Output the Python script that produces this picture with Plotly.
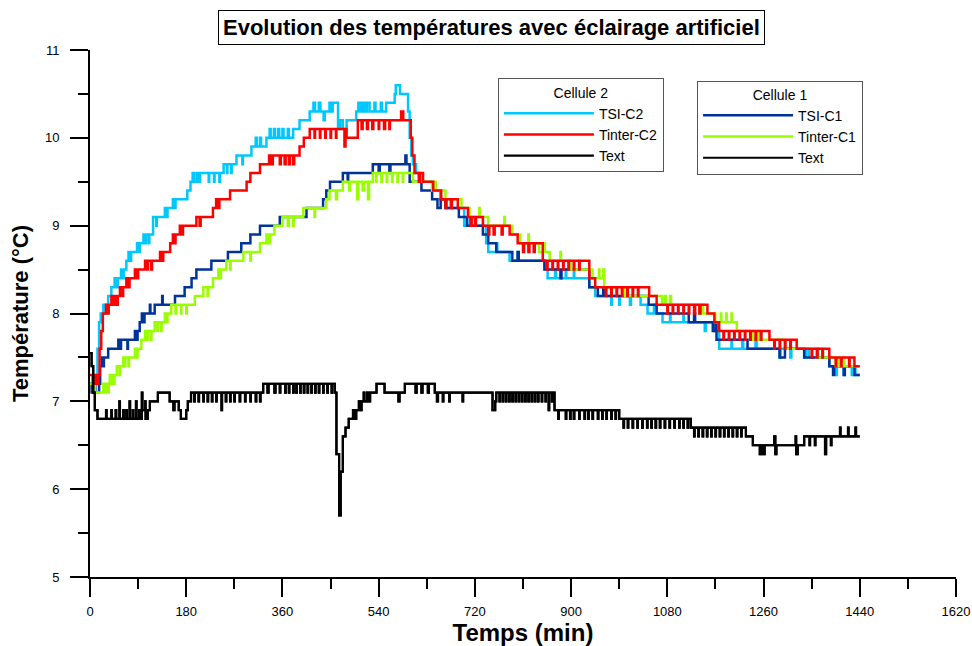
import plotly.graph_objects as go

# ---------------- data (time in min, temperature in °C), step samples ----------------
TSI_C2 = [(0,7.2),(12,7.3),(14,7.6),(17,7.9),(20,8.0),(25,8.1),(29,8.0),(31,8.1),(34,8.2),(40,8.3),(46,8.4),(49,8.3),(52,8.4),(58,8.5),(62,8.4),(63,8.5),(68,8.6),(72,8.7),(75,8.6),(77,8.7),(88,8.8),(92,8.7),(93,8.8),(100,8.9),(104,8.8),(105,8.9),(110,8.8),(111,8.9),(118,9.1),(124,9.0),(125,9.1),(140,9.2),(143,9.1),(145,9.2),(155,9.3),(158,9.2),(160,9.3),(182,9.4),(188,9.5),(192,9.6),(195,9.5),(200,9.6),(204,9.5),(206,9.6),(222,9.5),(223,9.6),(232,9.5),(233,9.6),(242,9.5),(243,9.6),(250,9.7),(256,9.6),(257,9.7),(264,9.6),(265,9.7),(274,9.8),(285,9.7),(286,9.8),(302,9.9),(310,10.0),(312,9.9),(318,10.0),(320,9.9),(330,10.0),(336,10.1),(338,10.0),(344,10.1),(346,10.0),(352,10.1),(354,10.0),(360,10.1),(362,10.0),(370,10.1),(372,10.0),(380,10.1),(392,10.2),(411,10.3),(418,10.4),(421,10.3),(428,10.4),(431,10.3),(437,10.2),(439,10.3),(448,10.4),(452,10.3),(454,10.4),(464,10.1),(468,10.2),(473,10.1),(480,10.2),(498,10.3),(502,10.4),(506,10.3),(510,10.4),(514,10.3),(518,10.4),(523,10.3),(532,10.4),(534,10.3),(544,10.4),(546,10.3),(554,10.4),(570,10.5),(572,10.6),(580,10.5),(595,10.3),(598,10.0),(601,9.8),(604,9.7),(610,9.6),(618,9.5),(640,9.4),(655,9.3),(665,9.2),(700,9.0),(710,9.1),(712,9.0),(741,8.8),(745,8.7),(760,8.8),(762,8.7),(785,8.6),(800,8.7),(802,8.6),(853,8.5),(856,8.4),(870,8.5),(872,8.4),(890,8.5),(891,8.4),(905,8.5),(906,8.4),(934,8.3),(945,8.2),(975,8.1),(976,8.2),(990,8.1),(991,8.2),(1010,8.1),(1012,8.2),(1030,8.1),(1043,8.0),(1055,8.1),(1057,8.0),(1071,7.9),(1085,8.0),(1086,7.9),(1110,8.0),(1111,7.9),(1150,7.8),(1152,7.9),(1168,7.8),(1177,7.6),(1200,7.7),(1201,7.6),(1220,7.7),(1222,7.6),(1245,7.7),(1247,7.6),(1290,7.5),(1292,7.6),(1310,7.5),(1312,7.6),(1336,7.5),(1340,7.6),(1345,7.5),(1360,7.6),(1362,7.5),(1383,7.4),(1395,7.3),(1397,7.4),(1410,7.3),(1412,7.4),(1425,7.3),(1430,7.4),(1432,7.3),(1440,7.3)]

TINTER_C2 = [(0,7.3),(5,7.2),(8,7.3),(12,7.2),(16,7.3),(18,7.6),(21,7.8),(24,8.0),(30,8.1),(33,8.0),(35,8.1),(40,8.2),(42,8.1),(46,8.2),(48,8.1),(52,8.2),(56,8.3),(60,8.2),(62,8.3),(68,8.4),(72,8.3),(74,8.4),(84,8.5),(88,8.4),(90,8.5),(103,8.6),(106,8.5),(108,8.6),(114,8.5),(116,8.6),(131,8.7),(135,8.6),(137,8.7),(150,8.8),(155,8.9),(158,8.8),(160,8.9),(168,9.0),(172,8.9),(174,9.0),(199,9.1),(205,9.0),(207,9.1),(230,9.2),(236,9.3),(240,9.2),(242,9.3),(262,9.4),(293,9.5),(300,9.6),(318,9.7),(335,9.8),(338,9.7),(342,9.8),(355,9.7),(357,9.8),(364,9.7),(366,9.8),(372,9.7),(374,9.8),(380,9.7),(382,9.8),(392,9.9),(400,10.0),(411,10.1),(420,10.0),(421,10.1),(430,10.0),(431,10.1),(440,10.0),(441,10.1),(450,10.0),(451,10.1),(460,10.0),(461,10.1),(476,9.9),(478,10.1),(480,10.0),(501,10.2),(508,10.1),(510,10.2),(518,10.1),(520,10.2),(528,10.1),(530,10.2),(540,10.1),(541,10.2),(550,10.1),(552,10.2),(560,10.1),(561,10.2),(582,10.3),(586,10.2),(600,10.0),(603,9.8),(607,9.6),(615,9.5),(617,9.6),(623,9.5),(642,9.4),(657,9.3),(665,9.2),(667,9.3),(675,9.2),(677,9.3),(688,9.2),(707,9.1),(712,9.0),(714,9.1),(720,9.0),(722,9.1),(735,9.0),(745,8.9),(747,9.0),(755,8.9),(757,9.0),(770,8.9),(772,9.0),(785,8.9),(800,8.8),(810,8.7),(812,8.8),(820,8.7),(822,8.8),(830,8.7),(832,8.8),(847,8.6),(855,8.5),(856,8.6),(865,8.5),(866,8.6),(875,8.5),(876,8.6),(885,8.5),(886,8.6),(895,8.5),(896,8.6),(905,8.5),(906,8.6),(915,8.5),(916,8.6),(934,8.4),(945,8.3),(965,8.2),(966,8.3),(975,8.2),(976,8.3),(985,8.2),(986,8.3),(995,8.2),(996,8.3),(1005,8.2),(1006,8.3),(1015,8.2),(1016,8.3),(1025,8.2),(1026,8.3),(1046,8.2),(1060,8.1),(1080,8.0),(1081,8.1),(1090,8.0),(1091,8.1),(1100,8.0),(1101,8.1),(1110,8.0),(1111,8.1),(1120,8.0),(1121,8.1),(1130,8.0),(1132,8.1),(1140,8.0),(1142,8.1),(1155,8.0),(1168,7.9),(1177,7.8),(1185,7.7),(1186,7.8),(1195,7.7),(1196,7.8),(1205,7.7),(1206,7.8),(1215,7.7),(1216,7.8),(1225,7.7),(1226,7.8),(1235,7.7),(1236,7.8),(1245,7.7),(1246,7.8),(1255,7.7),(1256,7.8),(1271,7.7),(1280,7.6),(1281,7.7),(1290,7.6),(1291,7.7),(1300,7.6),(1301,7.7),(1310,7.6),(1311,7.7),(1322,7.6),(1350,7.5),(1351,7.6),(1360,7.5),(1361,7.6),(1370,7.5),(1371,7.6),(1383,7.5),(1395,7.4),(1396,7.5),(1405,7.4),(1406,7.5),(1420,7.4),(1421,7.5),(1430,7.4),(1440,7.4)]

TSI_C1 = [(0,7.2),(3,7.1),(8,7.2),(10,7.1),(17,7.2),(19,7.4),(22,7.5),(24,7.4),(26,7.5),(34,7.6),(53,7.7),(56,7.6),(58,7.7),(70,7.6),(71,7.7),(84,7.8),(88,7.7),(89,7.8),(93,7.9),(97,8.0),(100,7.9),(102,8.0),(112,8.1),(113,8.0),(121,8.1),(135,8.2),(136,8.1),(159,8.2),(177,8.3),(190,8.4),(199,8.5),(227,8.6),(258,8.7),(283,8.8),(300,8.9),(318,9.0),(355,9.1),(405,9.2),(436,9.3),(442,9.4),(449,9.5),(473,9.6),(482,9.5),(483,9.6),(529,9.7),(540,9.6),(542,9.7),(560,9.6),(562,9.7),(590,9.8),(592,9.7),(598,9.5),(620,9.4),(640,9.3),(650,9.2),(656,9.3),(665,9.2),(690,9.1),(705,9.0),(735,8.9),(745,8.8),(760,8.7),(790,8.6),(800,8.7),(802,8.6),(850,8.5),(880,8.4),(882,8.5),(934,8.3),(950,8.2),(960,8.3),(962,8.2),(1045,8.1),(1060,8.0),(1120,7.9),(1130,8.0),(1132,7.9),(1165,7.8),(1170,7.9),(1172,7.7),(1230,7.6),(1290,7.5),(1300,7.6),(1336,7.5),(1383,7.4),(1390,7.3),(1392,7.4),(1410,7.3),(1412,7.4),(1430,7.3),(1440,7.3)]

TINTER_C1 = [(0,7.2),(9,7.1),(25,7.2),(28,7.1),(30,7.2),(34,7.1),(35,7.2),(37,7.3),(40,7.2),(41,7.3),(45,7.2),(46,7.3),(50,7.4),(55,7.3),(56,7.4),(62,7.5),(65,7.4),(66,7.5),(72,7.4),(73,7.5),(84,7.6),(88,7.5),(89,7.6),(96,7.7),(103,7.8),(107,7.7),(108,7.8),(114,7.7),(115,7.8),(121,7.9),(126,7.8),(127,7.9),(133,7.8),(134,7.9),(140,8.0),(144,7.9),(145,8.0),(152,8.1),(160,8.0),(161,8.1),(170,8.0),(171,8.1),(180,8.0),(181,8.1),(196,8.2),(212,8.3),(220,8.2),(221,8.3),(230,8.4),(240,8.5),(244,8.4),(245,8.5),(255,8.6),(262,8.5),(263,8.6),(287,8.7),(300,8.6),(301,8.7),(318,8.8),(330,8.9),(335,8.8),(337,8.9),(345,9.0),(360,9.1),(370,9.0),(372,9.1),(380,9.0),(381,9.1),(399,9.2),(420,9.1),(421,9.2),(442,9.3),(448,9.4),(460,9.3),(462,9.4),(473,9.5),(485,9.4),(486,9.5),(500,9.3),(502,9.5),(510,9.4),(512,9.5),(520,9.3),(522,9.5),(529,9.6),(535,9.5),(536,9.6),(545,9.5),(546,9.6),(555,9.5),(556,9.6),(565,9.5),(566,9.6),(575,9.5),(576,9.6),(585,9.5),(586,9.6),(604,9.5),(640,9.4),(645,9.5),(647,9.4),(665,9.3),(695,9.2),(710,9.1),(728,9.2),(729,9.1),(745,9.0),(775,9.1),(776,9.0),(790,8.9),(805,8.8),(820,8.9),(821,8.8),(840,8.7),(850,8.8),(851,8.7),(860,8.6),(880,8.7),(881,8.6),(900,8.5),(915,8.6),(916,8.5),(940,8.4),(952,8.5),(953,8.4),(960,8.5),(962,8.3),(1000,8.2),(1070,8.1),(1075,8.2),(1077,8.1),(1085,8.2),(1087,8.1),(1140,8.0),(1145,8.1),(1147,8.0),(1170,7.9),(1180,8.0),(1181,7.9),(1190,8.0),(1191,7.9),(1200,8.0),(1201,7.9),(1210,7.8),(1240,7.7),(1250,7.8),(1251,7.7),(1300,7.6),(1360,7.5),(1370,7.6),(1371,7.5),(1395,7.4),(1400,7.5),(1401,7.4),(1410,7.5),(1411,7.4),(1440,7.4)]

TEXT = [(0,7.55),(3,7.4),(6,7.1),(9,6.9),(14,6.8),(30,6.9),(31,6.8),(40,6.9),(41,6.8),(48,6.9),(49,6.8),(55,7.0),(56,6.8),(62,6.9),(63,6.8),(68,6.9),(69,6.8),(74,7.0),(75,6.8),(80,6.9),(81,6.8),(86,7.0),(87,6.8),(92,6.9),(93,6.8),(97,7.1),(98,6.9),(103,7.0),(104,6.8),(108,6.9),(112,7.0),(127,7.1),(149,7.0),(156,6.9),(158,7.0),(166,6.9),(170,6.8),(180,6.9),(183,7.0),(189,7.1),(195,7.0),(196,7.1),(203,7.0),(204,7.1),(212,7.0),(213,7.1),(220,7.0),(221,7.1),(228,7.0),(229,7.1),(236,7.0),(237,7.1),(246,6.9),(247,7.1),(254,7.0),(255,7.1),(262,7.0),(263,7.1),(270,7.0),(271,7.1),(280,7.0),(281,7.1),(290,7.0),(291,7.1),(300,7.0),(301,7.1),(310,7.0),(311,7.1),(318,7.0),(319,7.1),(324,7.2),(332,7.1),(334,7.2),(345,7.1),(347,7.2),(355,7.1),(356,7.2),(365,7.1),(366,7.2),(372,7.1),(373,7.2),(380,7.1),(381,7.2),(386,7.1),(387,7.2),(393,7.1),(394,7.2),(400,7.1),(401,7.2),(407,7.1),(408,7.2),(414,7.1),(415,7.2),(421,7.1),(422,7.2),(428,7.1),(429,7.2),(436,7.1),(437,7.2),(444,7.1),(445,7.2),(452,7.1),(453,7.2),(458,7.1),(461,6.4),(466,5.7),(469,6.2),(473,6.6),(478,6.7),(484,6.8),(492,6.9),(494,6.8),(498,6.9),(503,7.0),(505,6.9),(508,7.0),(512,7.1),(513,7.0),(518,7.1),(520,7.0),(524,7.1),(536,7.2),(551,7.1),(577,7.0),(579,7.1),(589,7.2),(609,7.1),(611,7.2),(620,7.1),(622,7.2),(632,7.1),(634,7.2),(645,7.1),(649,7.0),(651,7.1),(660,7.0),(661,7.1),(672,7.0),(673,7.1),(697,7.0),(698,7.1),(753,6.9),(758,7.0),(760,7.1),(766,7.0),(767,7.1),(772,7.0),(773,7.1),(778,7.0),(779,7.1),(784,7.0),(785,7.1),(790,7.0),(791,7.1),(796,7.0),(797,7.1),(802,7.0),(803,7.1),(808,7.0),(809,7.1),(814,7.0),(815,7.1),(820,7.0),(821,7.1),(826,7.0),(827,7.1),(832,7.0),(833,7.1),(838,7.0),(839,7.1),(845,7.0),(846,7.1),(852,7.0),(853,7.1),(858,6.9),(859,7.1),(864,7.0),(866,7.1),(869,6.9),(876,6.8),(877,6.9),(890,6.8),(891,6.9),(898,6.8),(899,6.9),(905,6.8),(906,6.9),(915,6.8),(916,6.9),(925,6.8),(926,6.9),(932,6.8),(933,6.9),(940,6.8),(941,6.9),(950,6.8),(951,6.9),(958,6.8),(959,6.9),(966,6.8),(967,6.9),(975,6.8),(976,6.9),(983,6.8),(984,6.9),(990,6.8),(998,6.7),(999,6.8),(1006,6.7),(1007,6.8),(1015,6.7),(1016,6.8),(1024,6.7),(1025,6.8),(1033,6.7),(1034,6.8),(1042,6.7),(1043,6.8),(1050,6.7),(1051,6.8),(1058,6.7),(1059,6.8),(1066,6.7),(1067,6.8),(1075,6.7),(1076,6.8),(1084,6.7),(1085,6.8),(1093,6.7),(1094,6.8),(1102,6.7),(1103,6.8),(1110,6.7),(1111,6.8),(1118,6.7),(1119,6.8),(1124,6.7),(1130,6.6),(1131,6.7),(1138,6.6),(1139,6.7),(1146,6.6),(1147,6.7),(1154,6.6),(1155,6.7),(1162,6.6),(1163,6.7),(1170,6.6),(1171,6.7),(1178,6.6),(1179,6.7),(1186,6.6),(1187,6.7),(1194,6.6),(1195,6.7),(1202,6.6),(1203,6.7),(1210,6.6),(1211,6.7),(1218,6.6),(1219,6.7),(1227,6.6),(1240,6.5),(1253,6.4),(1256,6.5),(1260,6.4),(1262,6.5),(1280,6.6),(1282,6.4),(1284,6.5),(1320,6.6),(1321,6.4),(1324,6.5),(1336,6.6),(1346,6.5),(1347,6.6),(1356,6.5),(1357,6.6),(1375,6.4),(1377,6.6),(1386,6.5),(1387,6.6),(1403,6.7),(1404,6.6),(1418,6.7),(1419,6.6),(1432,6.7),(1433,6.6),(1440,6.6)]

X_TICKS = [0, 180, 360, 540, 720, 900, 1080, 1260, 1440, 1620]
Y_TICKS = [5, 6, 7, 8, 9, 10, 11]

FONT = "Liberation Sans, Arial, sans-serif"

def xs(series):
    return [p[0] for p in series]

def ys(series):
    return [p[1] for p in series]

fig = go.Figure()

specs = [
    ("TSI-C2", TSI_C2, "#00C8FF", "legend"),
    ("TSI-C1", TSI_C1, "#003399", "legend2"),
    ("Tinter-C1", TINTER_C1, "#99FF00", "legend2"),
    ("Tinter-C2", TINTER_C2, "#FF0000", "legend"),
]
for name, s, col, lg in specs:
    fig.add_trace(go.Scatter(x=xs(s), y=ys(s), mode="lines", name=name,
                             line=dict(color=col, width=2.5, shape="hv"),
                             legend=lg))
fig.add_trace(go.Scatter(x=xs(TEXT), y=ys(TEXT), mode="lines", name="Text",
                         line=dict(color="black", width=2.2, shape="hv"), legend="legend"))
fig.add_trace(go.Scatter(x=xs(TEXT), y=ys(TEXT), mode="lines", name="Text",
                         line=dict(color="black", width=2.2, shape="hv"), legend="legend2"))

leg_common = dict(xanchor="left", yanchor="top", bgcolor="white",
                  bordercolor="#555555", borderwidth=1,
                  font=dict(family=FONT, size=14, color="black"),
                  itemwidth=90, tracegroupgap=0, traceorder="normal")

fig.update_layout(
    width=972, height=646,
    margin=dict(l=90, r=16, t=50, b=69, autoexpand=False),
    paper_bgcolor="white", plot_bgcolor="white",
    font=dict(family=FONT, color="black"),
    legend=dict(x=0.471, y=0.946, title=dict(text="Cellule 2", side="top center",
                font=dict(family=FONT, size=14)), **leg_common),
    legend2=dict(x=0.701, y=0.942, title=dict(text="Cellule 1", side="top center",
                 font=dict(family=FONT, size=14)), **leg_common),
    xaxis=dict(range=[0, 1620], tickvals=X_TICKS, ticktext=[str(v) for v in X_TICKS],
               automargin=False,
               showline=True, linecolor="black", linewidth=2, showgrid=False, zeroline=False,
               ticks="outside", ticklen=18, tickwidth=2, tickcolor="black",
               minor=dict(ticks="outside", ticklen=10, tickwidth=2, tickcolor="black", dtick=90, showgrid=False),
               tickfont=dict(family=FONT, size=13), ticklabelstandoff=3,
               title=dict(text="<b>Temps (min)</b>", font=dict(family=FONT, size=24), standoff=6)),
    yaxis=dict(range=[5, 11], tickvals=Y_TICKS, ticktext=[str(v) for v in Y_TICKS],
               automargin=False,
               showline=True, linecolor="black", linewidth=2, showgrid=False, zeroline=False,
               ticks="outside", ticklen=18, tickwidth=2, tickcolor="black",
               minor=dict(ticks="outside", ticklen=10, tickwidth=2, tickcolor="black", dtick=0.5, showgrid=False),
               tickfont=dict(family=FONT, size=13), ticklabelstandoff=8,
               title=dict(text="<b>Température (°C)</b>", font=dict(family=FONT, size=22), standoff=10)),
    annotations=[dict(text="<b>Evolution des températures avec éclairage artificiel</b>",
                      xref="paper", yref="paper", x=0.464, y=1.0436, xanchor="center", yanchor="middle",
                      showarrow=False, font=dict(family=FONT, size=22, color="black"),
                      bordercolor="black", borderwidth=1, borderpad=4, bgcolor="white")],
)

# remove the default 8px page margin so the 972x646 figure fills the window exactly
fig.write_html("out.html", config={"displayModeBar": False},
               post_script="document.body.style.margin='0';document.body.style.overflow='hidden';")
